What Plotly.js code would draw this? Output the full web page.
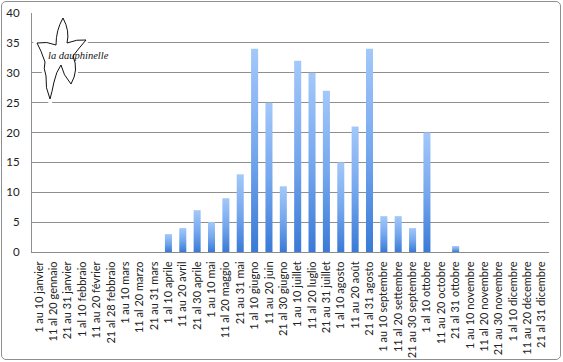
<!DOCTYPE html>
<html>
<head>
<meta charset="utf-8">
<script src="https://cdn.plot.ly/plotly-3.0.1.min.js"></script>
<style>
  html, body { margin: 0; padding: 0; background: #fff; }
  #wrap { position: relative; width: 563px; height: 362px; }
  #chart { position: absolute; left: 0; top: 0; width: 563px; height: 362px; }
  #frame { position: absolute; left: 1px; top: 1px; width: 558px; height: 357px;
           border: 1.5px solid #8f8f8f; border-radius: 5px; pointer-events: none; }
</style>
</head>
<body>
<div id="wrap"><div id="chart"></div><div id="frame"></div></div>
<script>
const categories = [
  "1 au 10 janvier", "11 al 20 gennaio", "21 au 31 janvier",
  "1 al 10 febbraio", "11 au 20 février", "21 al 28 febbraio",
  "1 au 10 mars", "11 al 20 marzo", "21 au 31 mars",
  "1 al 10 aprile", "11 au 20 avril", "21 al 30 aprile",
  "1 au 10 mai", "11 al 20 maggio", "21 au 31 mai",
  "1 al 10 giugno", "11 au 20 juin", "21 al 30 giugno",
  "1 au 10 juillet", "11 al 20 luglio", "21 au 31 juillet",
  "1 al 10 agosto", "11 au 20 août", "21 al 31 agosto",
  "1 au 10 septembre", "11 al 20 settembre", "21 au 30 septembre",
  "1 al 10 ottobre", "11 au 20 octobre", "21 al 31 ottobre",
  "1 au 10 novembre", "11 al 20 novembre", "21 au 30 novembre",
  "1 al 10 dicembre", "11 au 20 décembre", "21 al 31 dicembre"
];
const counts = [
  0, 0, 0, 0, 0, 0, 0, 0, 0,
  3, 4, 7, 5, 9, 13,
  34, 25, 11, 32, 30, 27,
  15, 21, 34, 6, 6, 4,
  20, 0, 1, 0, 0, 0, 0, 0, 0
];
const yTickVals = [0, 5, 10, 15, 20, 25, 30, 35, 40];
const logoText = "la dauphinelle";

// Margins of the plot area (pixels)
const M = { l: 32, r: 14, t: 13, b: 110 };

// Decorative logo outline (flower), drawn in pixel offsets from plot's top-left
const flowerPts = "M 63,18 Q 70,31 67,43 Q 77,39 86,40 Q 79,48 73,56 Q 79,70 71,84 Q 63,75 61,65 Q 56,72 54,82 Q 52,92 50,99 Q 45,88 46,76 Q 43,68 45,62 Q 41,50 37,43 Q 47,41 56,45 Q 56,30 63,18 Z";
function toPixelPath(p) {
  return p.replace(/(-?\d+(?:\.\d+)?),(-?\d+(?:\.\d+)?)/g, function(_, x, y) {
    return (Number(x) - M.l) + "," + (-(Number(y) - M.t));
  });
}
const flowerPath = toPixelPath(flowerPts);

const trace = {
  type: "bar",
  x: categories,
  y: counts,
  marker: { color: "#6a9ee8", line: { width: 0 } },
  hoverinfo: "x+y"
};

const font = "Lato, Open Sans, sans-serif";
const layout = {
  width: 563, height: 362,
  margin: M,
  paper_bgcolor: "#ffffff",
  plot_bgcolor: "#ffffff",
  showlegend: false,
  bargap: 0.51,
  font: { family: font, size: 11, color: "#222" },
  xaxis: {
    type: "category",
    tickangle: -90,
    tickfont: { family: font, size: 11, color: "#222" },
    showgrid: false,
    showline: true, linecolor: "#8c8c8c", linewidth: 1,
    ticks: "", ticklabelstandoff: 4,
    fixedrange: true
  },
  yaxis: {
    range: [0, 40],
    tickvals: yTickVals,
    ticktext: yTickVals.map(String),
    tickfont: { family: font, size: 11.5, color: "#222" },
    showgrid: true, gridcolor: "#8f8f8f", gridwidth: 1,
    zeroline: false,
    showline: true, linecolor: "#8f8f8f", linewidth: 1,
    ticks: "", ticklabelstandoff: 9,
    fixedrange: true
  },
  shapes: [
    { type: "path", xref: "paper", yref: "paper", xsizemode: "pixel", ysizemode: "pixel",
      xanchor: 0, yanchor: 1, path: flowerPath,
      fillcolor: "#ffffff", line: { color: "#ffffff", width: 6 } },
    { type: "path", xref: "paper", yref: "paper", xsizemode: "pixel", ysizemode: "pixel",
      xanchor: 0, yanchor: 1, path: flowerPath,
      fillcolor: "#ffffff", line: { color: "#111111", width: 1 } }
  ],
  annotations: [
    { text: "<i>" + logoText + "</i>", xref: "paper", yref: "paper", x: 0, y: 1,
      xanchor: "left", yanchor: "middle", xshift: 14, yshift: -42,
      showarrow: false,
      font: { family: "Liberation Serif, DejaVu Serif, serif", size: 10.5, color: "#111" } }
  ]
};

Plotly.newPlot("chart", [trace], layout, { displayModeBar: false, staticPlot: true }).then(function(gd) {
  const svgNS = "http://www.w3.org/2000/svg";
  const svg = gd.querySelector("svg.main-svg");
  let defs = svg.querySelector("defs");
  if (!defs) { defs = document.createElementNS(svgNS, "defs"); svg.insertBefore(defs, svg.firstChild); }
  const grad = document.createElementNS(svgNS, "linearGradient");
  grad.setAttribute("id", "barGrad");
  grad.setAttribute("x1", "0"); grad.setAttribute("y1", "0");
  grad.setAttribute("x2", "0"); grad.setAttribute("y2", "1");
  [["0", "#a3c8fa"], ["0.5", "#76a8ee"], ["1", "#3a7ad6"]].forEach(function(s) {
    const st = document.createElementNS(svgNS, "stop");
    st.setAttribute("offset", s[0]);
    st.setAttribute("stop-color", s[1]);
    grad.appendChild(st);
  });
  defs.appendChild(grad);
  gd.querySelectorAll("g.trace.bars g.point path").forEach(function(p) {
    p.style.fill = "url(#barGrad)";
  });
});
</script>
</body>
</html>
